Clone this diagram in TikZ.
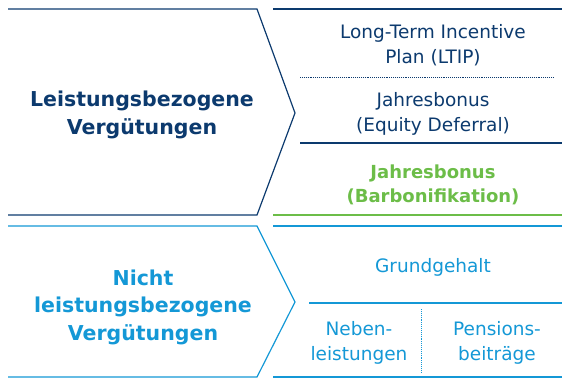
\documentclass[tikz,border=0pt]{standalone}
\usepackage{fontspec}
\setmainfont{DejaVu Sans}
\definecolor{navy}{RGB}{12,58,110}
\definecolor{sky}{RGB}{20,152,214}
\definecolor{leaf}{RGB}{108,189,72}
\tikzset{
  rule/.style={line width=1.2pt},
  dotrule/.style={line width=0.8pt, dash pattern=on 0.8pt off 1.1pt},
  reg/.style={align=center, inner sep=0pt, font=\fontsize{18.5}{25}\selectfont},
  grn/.style={align=center, inner sep=0pt, font=\bfseries\fontsize{18}{24}\selectfont},
  big/.style={align=center, inner sep=0pt, font=\bfseries\fontsize{20.5}{27.5}\selectfont},
}
\begin{document}
\begin{tikzpicture}[x=1pt,y=-1pt]
\useasboundingbox (0,0) rectangle (562,379);
% upper chevron
\draw[rule, navy, line join=miter] (8,9) -- (257,9) -- (295,113) -- (257,215) -- (8,215);
\draw[rule, navy] (273,9) -- (562,9);
\draw[dotrule, navy] (300,77) -- (553,77);
\draw[rule, navy] (300,143) -- (562,143);
\draw[rule, leaf] (273,215) -- (562,215);
% lower chevron
\draw[rule, sky, line join=miter] (8,226) -- (257,226) -- (295,302) -- (257,377) -- (8,377);
\draw[rule, sky] (273,226) -- (562,226);
\draw[rule, sky] (309,303) -- (562,303);
\draw[rule, sky] (273,377) -- (562,377);
\draw[dotrule, sky] (421,309) -- (421,372);
% texts
\node[big, navy] (lb) at (142,115) {Leistungsbezogene\\Vergütungen};
\node[reg, navy] (ltip) at (433,45) {Long-Term Incentive\\Plan (LTIP)};
\node[reg, navy] (eq) at (433,113.5) {Jahresbonus\\(Equity Deferral)};
\node[grn, leaf] (bar) at (433,185) {Jahresbonus\\(Barbonifikation)};
\node[big, sky] (nlb) at (143,307) {Nicht\\leistungsbezogene\\Vergütungen};
\node[reg, sky] (gg) at (433,267) {Grundgehalt};
\node[reg, sky] (nl) at (359,343) {Neben-\\leistungen};
\node[reg, sky] (pb) at (497,343) {Pensions-\\beiträge};
\end{tikzpicture}
\end{document}
